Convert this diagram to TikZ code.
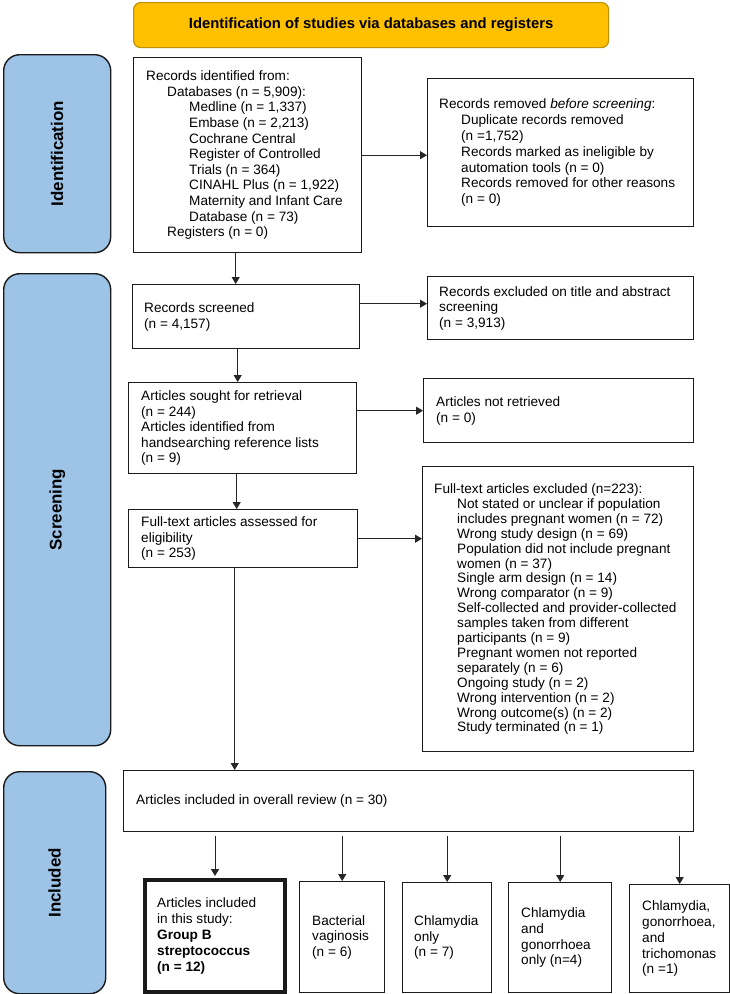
\documentclass[tikz,border=0pt]{standalone}
\usepackage{fontspec}
\setmainfont{Liberation Sans}
\usetikzlibrary{arrows.meta,calc}
\definecolor{hdrfill}{HTML}{FFC000}
\definecolor{hdrline}{HTML}{BF9000}
\definecolor{sidefill}{HTML}{9DC3E6}
\definecolor{lineclr}{HTML}{1A1A1A}
\definecolor{arrclr}{HTML}{262626}
\begin{document}
\begin{tikzpicture}[x=1pt,y=-1pt,
  box/.style={draw=lineclr, line width=1.4pt, fill=white, anchor=north west, inner sep=0pt},
  txt/.style={anchor=west, align=left, inner sep=0pt, text=black, font=\fontsize{13.6}{15.6}\selectfont},
  side/.style={draw=lineclr, line width=1.4pt, fill=sidefill, rounded corners=16pt, anchor=north west, inner sep=0pt},
  sidelab/.style={rotate=90, inner sep=0pt, font=\bfseries\fontsize{16.9}{19}\selectfont},
  arr/.style={draw=arrclr, line width=1pt, -{Triangle[length=7pt,width=8pt]}}]
\fill[white] (0,0) rectangle (730,994);
\useasboundingbox (0,0) rectangle (730,994);

% header
\node[draw=hdrline, fill=hdrfill, line width=1.2pt, rounded corners=7pt, anchor=north west,
      minimum width=475pt, minimum height=45pt, inner sep=0pt,
      font=\bfseries\fontsize{14.8}{17}\selectfont] (hdr) at (133,2)
      {Identification of studies via databases and registers};

% side bars
\node[side, minimum width=107pt, minimum height=198pt] (sideid) at (3,54) {};
\node[sidelab] (labid) at (sideid.center) {Identification};
\node[side, minimum width=107pt, minimum height=472pt] (sidescr) at (3,273) {};
\node[sidelab] (labscr) at (sidescr.center) {Screening};
\node[side, minimum width=102pt, minimum height=222pt] (sideinc) at (3,771) {};
\node[sidelab] (labinc) at (sideinc.center) {Included};

% boxes
\node[box, minimum width=228pt, minimum height=195pt] (ident) at (133,57) {};
\node[txt] (identT) at ([xshift=13pt]ident.west) {Records identified from:\\
\hspace*{21pt}Databases (n = 5,909):\\
\hspace*{43pt}Medline (n = 1,337)\\
\hspace*{43pt}Embase (n = 2,213)\\
\hspace*{43pt}Cochrane Central\\
\hspace*{43pt}Register of Controlled\\
\hspace*{43pt}Trials (n = 364)\\
\hspace*{43pt}CINAHL Plus (n = 1,922)\\
\hspace*{43pt}Maternity and Infant Care\\
\hspace*{43pt}Database (n = 73)\\
\hspace*{21pt}Registers (n = 0)};

\node[box, minimum width=266pt, minimum height=148pt] (removed) at (427,78) {};
\node[txt, font=\fontsize{13.6}{15.8}\selectfont] (removedT) at ([xshift=12pt]removed.west) {Records removed \textit{before screening}:\\
\hspace*{22pt}Duplicate records removed\\
\hspace*{22pt}(n =1,752)\\
\hspace*{22pt}Records marked as ineligible by\\
\hspace*{22pt}automation tools (n = 0)\\
\hspace*{22pt}Records removed for other reasons\\
\hspace*{22pt}(n = 0)};

\node[box, minimum width=227pt, minimum height=64pt] (screened) at (132,284) {};
\node[txt] (screenedT) at ([xshift=12pt]screened.west) {Records screened\\(n = 4,157)};

\node[box, minimum width=266pt, minimum height=63pt] (excluded) at (427,276) {};
\node[txt] (excludedT) at ([xshift=12pt]excluded.west) {Records excluded on title and abstract\\screening\\(n = 3,913)};

\node[box, minimum width=228pt, minimum height=91pt] (sought) at (128,382) {};
\node[txt] (soughtT) at ([xshift=13pt]sought.west) {Articles sought for retrieval\\(n = 244)\\Articles identified from\\handsearching reference lists\\(n = 9)};

\node[box, minimum width=270pt, minimum height=64pt] (notret) at (423,378) {};
\node[txt] (notretT) at ([xshift=13pt]notret.west) {Articles not retrieved\\(n = 0)};

\node[box, minimum width=229pt, minimum height=58pt] (assessed) at (128,509) {};
\node[txt] (assessedT) at ([xshift=13pt]assessed.west) {Full-text articles assessed for\\eligibility\\(n = 253)};

\node[box, minimum width=271pt, minimum height=285pt] (ftexcl) at (422,466) {};
\node[txt, font=\fontsize{13.6}{14.9}\selectfont] (ftexclT) at ([xshift=12pt]ftexcl.west) {Full-text articles excluded (n=223):\\
\hspace*{23pt}Not stated or unclear if population\\
\hspace*{23pt}includes pregnant women (n = 72)\\
\hspace*{23pt}Wrong study design (n = 69)\\
\hspace*{23pt}Population did not include pregnant\\
\hspace*{23pt}women (n = 37)\\
\hspace*{23pt}Single arm design (n = 14)\\
\hspace*{23pt}Wrong comparator (n = 9)\\
\hspace*{23pt}Self-collected and provider-collected\\
\hspace*{23pt}samples taken from different\\
\hspace*{23pt}participants (n = 9)\\
\hspace*{23pt}Pregnant women not reported\\
\hspace*{23pt}separately (n = 6)\\
\hspace*{23pt}Ongoing study (n = 2)\\
\hspace*{23pt}Wrong intervention (n = 2)\\
\hspace*{23pt}Wrong outcome(s) (n = 2)\\
\hspace*{23pt}Study terminated (n = 1)};

\node[box, minimum width=570pt, minimum height=61pt] (overall) at (123,770) {};
\node[txt] (overallT) at ([xshift=13pt]overall.west) {Articles included in overall review (n = 30)};

\node[box, line width=4pt, minimum width=140pt, minimum height=112pt] (gbs) at (143,878) {};
\node[txt, font=\fontsize{13.6}{15.8}\selectfont] (gbsT) at ([xshift=14pt]gbs.west) {Articles included\\in this study:\\\textbf{Group B}\\\textbf{streptococcus}\\\textbf{(n = 12)}};

\node[box, minimum width=85pt, minimum height=111pt] (bv) at (299,881) {};
\node[txt] (bvT) at ([xshift=13pt]bv.west) {Bacterial\\vaginosis\\(n = 6)};

\node[box, minimum width=89pt, minimum height=110pt] (chl) at (402,882) {};
\node[txt] (chlT) at ([xshift=12pt]chl.west) {Chlamydia\\only\\(n = 7)};

\node[box, minimum width=103pt, minimum height=110pt] (cg) at (508,882) {};
\node[txt] (cgT) at ([xshift=13pt]cg.west) {Chlamydia\\and\\gonorrhoea\\only (n=4)};

\node[box, minimum width=100pt, minimum height=108pt] (cgt) at (629,884) {};
\node[txt, font=\fontsize{13.6}{15.8}\selectfont] (cgtT) at ([xshift=13pt]cgt.west) {Chlamydia,\\gonorrhoea,\\and\\trichomonas\\(n =1)};

% connectors
\draw[arr] (ident.east) -- (ident.east -| removed.west);
\coordinate (idout) at ([xshift=-12pt]ident.south);
\draw[arr] (idout) -- (idout |- screened.north);
\coordinate (exin) at ([yshift=4.5pt]excluded.west);
\draw[arr] (screened.east |- exin) -- (exin);
\coordinate (scout) at ([xshift=-8.5pt]screened.south);
\draw[arr] (scout) -- (scout |- sought.north);
\draw[arr] (sought.east |- notret.west) -- (notret.west);
\coordinate (soout) at ([xshift=-6pt]sought.south);
\draw[arr] (soout) -- (soout |- assessed.north);
\draw[arr] (assessed.east) -- (assessed.east -| ftexcl.west);
\coordinate (asout) at ([xshift=-8.5pt]assessed.south);
\draw[arr] (asout) -- (asout |- overall.north);
\coordinate (ob) at ([yshift=-4pt]overall.south);
\draw[arr] (ob -| gbs.north) -- ([yshift=2pt]gbs.north);
\draw[arr] (ob -| bv.north) -- (bv.north);
\draw[arr] (ob -| chl.north) -- (chl.north);
\draw[arr] (ob -| cg.north) -- (cg.north);
\draw[arr] (ob -| cgt.north) -- (cgt.north);
\end{tikzpicture}
\end{document}
